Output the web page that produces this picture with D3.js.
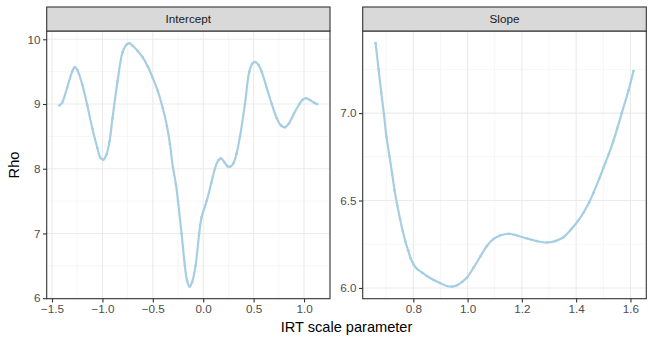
<!DOCTYPE html>
<html><head><meta charset="utf-8">
<script src="https://cdn.jsdelivr.net/npm/d3@7/dist/d3.min.js"></script>
<style>body{margin:0;background:#fff}svg{display:block;font-family:"Liberation Sans",Arial,sans-serif}</style>
</head><body><svg id="c" width="654" height="344"></svg>
<script>
const panels = ["Intercept", "Slope"];
const interceptX = [-1.425,-1.40,-1.35,-1.30,-1.274,-1.25,-1.20,-1.15,-1.10,-1.05,-1.02,-0.99,-0.96,-0.93,-0.90,-0.85,-0.80,-0.76,-0.735,-0.70,-0.65,-0.60,-0.55,-0.50,-0.45,-0.40,-0.36,-0.33,-0.30,-0.27,-0.25,-0.215,-0.182,-0.16,-0.135,-0.11,-0.076,-0.04,-0.016,0.034,0.08,0.116,0.15,0.176,0.21,0.24,0.265,0.298,0.33,0.365,0.414,0.457,0.49,0.514,0.55,0.58,0.63,0.68,0.73,0.77,0.81,0.85,0.90,0.954,0.99,1.02,1.06,1.10,1.13];
const interceptY = [8.98,9.02,9.25,9.50,9.57,9.53,9.30,8.98,8.62,8.32,8.17,8.14,8.22,8.42,8.78,9.35,9.80,9.92,9.94,9.90,9.82,9.72,9.58,9.40,9.20,8.93,8.66,8.38,8.02,7.75,7.50,7.00,6.50,6.27,6.18,6.25,6.50,7.00,7.25,7.50,7.78,8.00,8.13,8.16,8.10,8.04,8.03,8.08,8.23,8.50,9.00,9.50,9.63,9.65,9.60,9.50,9.25,9.00,8.78,8.67,8.64,8.70,8.85,9.00,9.07,9.09,9.06,9.02,9.00];
const slopeX = [0.661,0.672,0.682,0.692,0.701,0.712,0.722,0.731,0.741,0.751,0.761,0.771,0.781,0.790,0.801,0.813,0.832,0.850,0.875,0.900,0.924,0.943,0.961,0.980,0.998,1.022,1.047,1.071,1.096,1.120,1.151,1.182,1.219,1.255,1.292,1.323,1.353,1.381,1.410,1.427,1.448,1.464,1.485,1.500,1.520,1.537,1.552,1.568,1.593,1.611];
const slopeY = [7.40,7.25,7.116,6.99,6.865,6.755,6.653,6.558,6.472,6.395,6.325,6.264,6.215,6.17,6.135,6.11,6.088,6.068,6.045,6.027,6.011,6.008,6.015,6.035,6.06,6.116,6.18,6.24,6.28,6.30,6.31,6.30,6.283,6.268,6.26,6.268,6.29,6.334,6.39,6.43,6.49,6.545,6.625,6.685,6.765,6.84,6.915,7.00,7.13,7.24];
const interceptXTicks = [-1.5,-1.0,-0.5,0.0,0.5,1.0];
const interceptYTicks = [6,7,8,9,10];
const slopeXTicks = [0.8,1.0,1.2,1.4,1.6];
const slopeYTicks = [6.0,6.5,7.0];
const xTitle = "IRT scale parameter";
const yTitle = "Rho";

(function(){
const svg = d3.select("#c");
const lineColor = "#a6cee3";
const fmt1 = d3.format(".1f");
const fmtY0 = d => String(d);
const minus = s => s.replace("-", "\u2212");

function expand(ext){const r=ext[1]-ext[0];return [ext[0]-0.05*r, ext[1]+0.05*r];}

const defs = [
  {name:panels[0], xs:interceptX, ys:interceptY, xt:interceptXTicks, yt:interceptYTicks, x0:46.7, x1:330, xf:d=>minus(fmt1(d)), yf:fmtY0},
  {name:panels[1], xs:slopeX, ys:slopeY, xt:slopeXTicks, yt:slopeYTicks, x0:362.7, x1:646.3, xf:fmt1, yf:fmt1}
];
const pTop = 31, pBottom = 298.7, stripTop = 7;

defs.forEach(p => {
  const x = d3.scaleLinear().domain(expand(d3.extent(p.xs))).range([p.x0, p.x1]);
  const y = d3.scaleLinear().domain(expand(d3.extent(p.ys))).range([pBottom, pTop]);
  const g = svg.append("g");
  const xStep = p.xt[1]-p.xt[0], yStep = p.yt[1]-p.yt[0];
  const xMinor = [], yMinor = [];
  for (let i=-1;i<p.xt.length;i++){const v=p.xt[0]+(i+0.5)*xStep; if(v>x.domain()[0]&&v<x.domain()[1]) xMinor.push(v);}
  for (let i=-1;i<p.yt.length;i++){const v=p.yt[0]+(i+0.5)*yStep; if(v>y.domain()[0]&&v<y.domain()[1]) yMinor.push(v);}
  g.selectAll(".xm").data(xMinor).join("line").attr("x1",d=>x(d)).attr("x2",d=>x(d)).attr("y1",pTop).attr("y2",pBottom).attr("stroke","#f0f0f0").attr("stroke-width",0.6);
  g.selectAll(".ym").data(yMinor).join("line").attr("y1",d=>y(d)).attr("y2",d=>y(d)).attr("x1",p.x0).attr("x2",p.x1).attr("stroke","#f0f0f0").attr("stroke-width",0.6);
  g.selectAll(".xg").data(p.xt).join("line").attr("x1",d=>x(d)).attr("x2",d=>x(d)).attr("y1",pTop).attr("y2",pBottom).attr("stroke","#ebebeb").attr("stroke-width",1.1);
  g.selectAll(".yg").data(p.yt).join("line").attr("y1",d=>y(d)).attr("y2",d=>y(d)).attr("x1",p.x0).attr("x2",p.x1).attr("stroke","#ebebeb").attr("stroke-width",1.1);
  const pts = p.xs.map((v,i)=>[v,p.ys[i]]);
  g.append("path").datum(pts).attr("fill","none").attr("stroke",lineColor).attr("stroke-width",2.2)
    .attr("stroke-linejoin","round").attr("stroke-linecap","round")
    .attr("d", d3.line().x(d=>x(d[0])).y(d=>y(d[1])).curve(d3.curveCatmullRom.alpha(0.5)));
  g.selectAll(".pt").data(pts).join("circle").attr("cx",d=>x(d[0])).attr("cy",d=>y(d[1])).attr("r",1.3).attr("fill",lineColor);
  g.append("rect").attr("x",p.x0).attr("y",pTop).attr("width",p.x1-p.x0).attr("height",pBottom-pTop).attr("fill","none").attr("stroke","#333").attr("stroke-width",1.1);
  g.append("rect").attr("x",p.x0).attr("y",stripTop).attr("width",p.x1-p.x0).attr("height",pTop-stripTop).attr("fill","#d9d9d9").attr("stroke","#333").attr("stroke-width",1.1);
  g.append("text").attr("x",(p.x0+p.x1)/2).attr("y",(stripTop+pTop)/2+4.2).attr("text-anchor","middle").attr("font-size",11.7).attr("fill","#1a1a1a").text(p.name);
  const xa = g.append("g").attr("transform",`translate(0,${pBottom})`).call(d3.axisBottom(x).tickValues(p.xt).tickSize(3.7).tickPadding(2.5).tickFormat(p.xf));
  const ya = g.append("g").attr("transform",`translate(${p.x0},0)`).call(d3.axisLeft(y).tickValues(p.yt).tickSize(3.7).tickPadding(2.5).tickFormat(p.yf));
  [xa,ya].forEach(a=>{a.select(".domain").remove();a.selectAll(".tick line").attr("stroke","#333").attr("stroke-width",1.1);
    a.selectAll("text").attr("fill","#4d4d4d").attr("font-size",11.7).attr("font-family","Liberation Sans, Arial, sans-serif");});
});

svg.append("text").attr("x",346.5).attr("y",332).attr("text-anchor","middle").attr("font-size",14.6).attr("fill","#000").text(xTitle);
svg.append("text").attr("transform","translate(19,165) rotate(-90)").attr("text-anchor","middle").attr("font-size",14.6).attr("fill","#000").text(yTitle);
})();
</script></body></html>
